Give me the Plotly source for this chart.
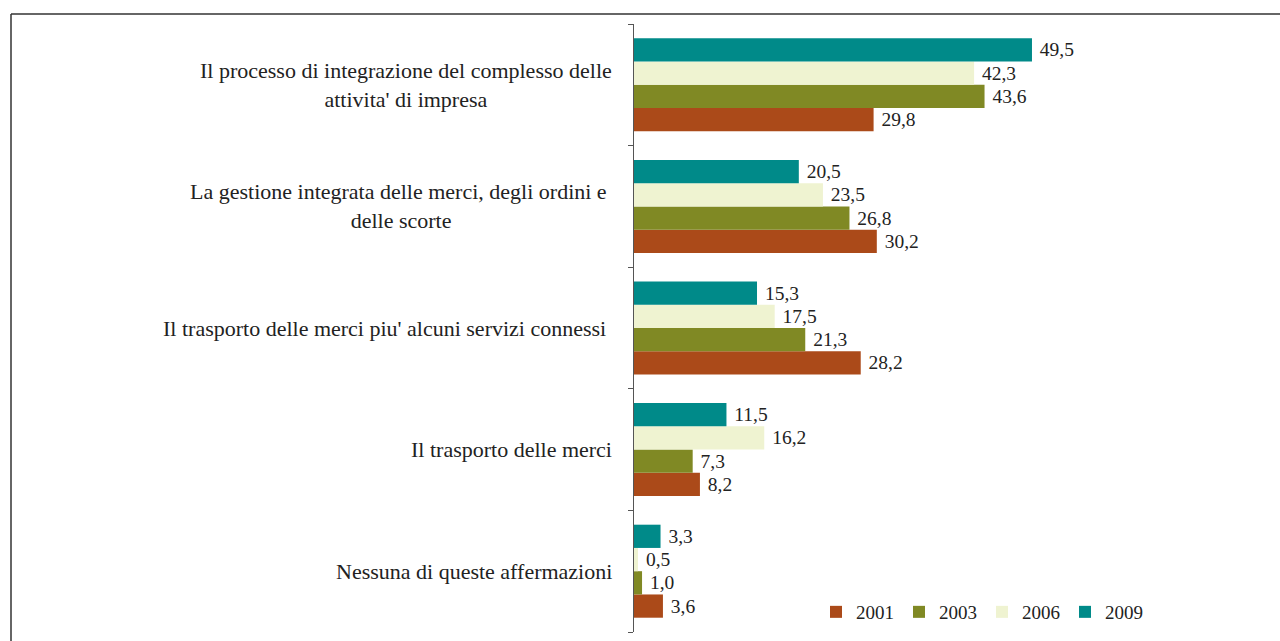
import plotly.graph_objects as go

# Categories, listed top to bottom as they appear on the chart
categories = [
    "Il processo di integrazione del complesso delle<br>attivita' di impresa",
    "La gestione integrata delle merci, degli ordini e <br>delle scorte",
    "Il trasporto delle merci piu' alcuni servizi connessi\u00a0",
    "Il trasporto delle merci",
    "Nessuna di queste affermazioni",
]
cat_keys = ["c1", "c2", "c3", "c4", "c5"]

years = ["2001", "2003", "2006", "2009"]
values_2001 = [29.8, 30.2, 28.2, 8.2, 3.6]
values_2003 = [43.6, 26.8, 21.3, 7.3, 1.0]
values_2006 = [42.3, 23.5, 17.5, 16.2, 0.5]
values_2009 = [49.5, 20.5, 15.3, 11.5, 3.3]
series = [values_2001, values_2003, values_2006, values_2009]
colors = ["#AB4A19", "#808924", "#EFF3D1", "#008A89"]

FONT = "Liberation Serif"
TEXT_COLOR = "#222222"

fig = go.Figure()
for year, vals, col in zip(years, series, colors):
    fig.add_trace(go.Bar(
        name=year,
        orientation="h",
        y=cat_keys,
        x=vals,
        marker=dict(color=col, line=dict(width=0)),
        text=["\u00a0" + f"{v:.1f}".replace(".", ",") for v in vals],
        textposition="outside",
        textfont=dict(family=FONT, size=19.5, color=TEXT_COLOR),
        constraintext="none",
        cliponaxis=False,
    ))

# Category labels, centred line by line, to the left of the axis
annotations = []
for key, label in zip(cat_keys, categories):
    annotations.append(dict(
        x=0, xref="paper", xanchor="right", xshift=-20,
        y=key, yref="y", yanchor="middle",
        text=label, align="center", showarrow=False,
        font=dict(family=FONT, size=22, color=TEXT_COLOR),
    ))

# Outer frame (top and left edges)
shapes = [
    dict(type="line", xref="paper", yref="paper",
         x0=(11 - 634) / 600, x1=(1290 - 634) / 600,
         y0=1 + 10 / 608, y1=1 + 10 / 608,
         line=dict(color="#333333", width=1.5)),
    dict(type="line", xref="paper", yref="paper",
         x0=(11 - 634) / 600, x1=(11 - 634) / 600,
         y0=1 + 10 / 608, y1=-0.1,
         line=dict(color="#333333", width=1.5)),
]

fig.update_layout(
    width=1280, height=641,
    margin=dict(l=634, r=46, t=24, b=9, pad=0),
    paper_bgcolor="white", plot_bgcolor="white",
    barmode="group", bargap=0.235, bargroupgap=0,
    font=dict(family=FONT, size=18, color=TEXT_COLOR),
    showlegend=True,
    legend=dict(
        orientation="h", x=(816 - 634) / 600, xanchor="left",
        y=(641 - 9 - 612) / 608, yanchor="middle",
        font=dict(family=FONT, size=19, color=TEXT_COLOR),
        bgcolor="rgba(0,0,0,0)", itemwidth=30, tracegroupgap=0,
    ),
    xaxis=dict(range=[0, 600 / 8.04], visible=False, showgrid=False, zeroline=False),
    yaxis=dict(
        type="category", categoryorder="array", categoryarray=cat_keys[::-1],
        range=[-0.5, 4.5], showticklabels=False, showgrid=False, zeroline=False,
        showline=True, linecolor="#555555", linewidth=1.2,
        ticks="outside", ticklen=5, tickcolor="#555555", tickwidth=1.2,
        tickson="boundaries",
    ),
    annotations=annotations,
    shapes=shapes,
)

fig.write_html("out.html")
